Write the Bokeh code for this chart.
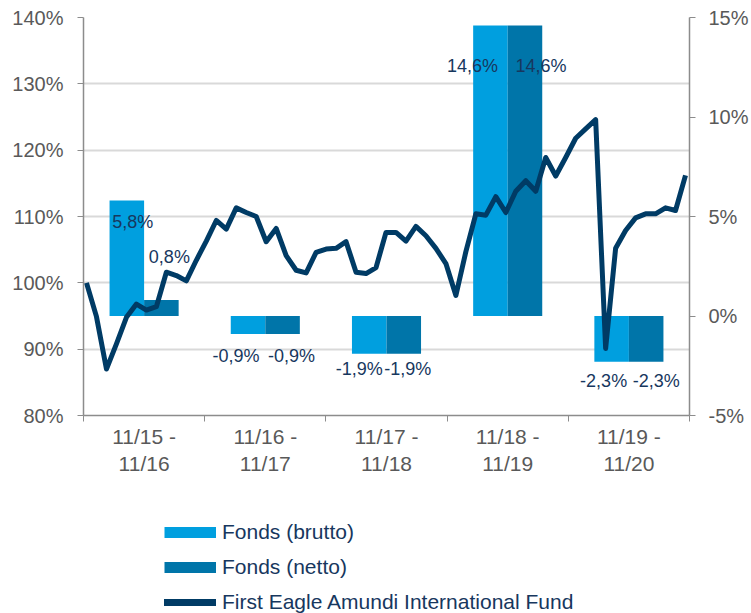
from bokeh.plotting import figure
from bokeh.layouts import column
from bokeh.models import (Range1d, LinearAxis, FixedTicker, ColumnDataSource,
                          Legend, LegendItem)
from bokeh.transform import dodge
from bokeh.core.properties import value
from bokeh.embed import file_html
from bokeh.resources import INLINE

# ---------------- data ----------------
periods = ["11/15 -\n11/16", "11/16 -\n11/17", "11/17 -\n11/18",
           "11/18 -\n11/19", "11/19 -\n11/20"]
brutto = [5.8, -0.9, -1.9, 14.6, -2.3]
netto = [0.8, -0.9, -1.9, 14.6, -2.3]

# monthly index of the fund (start = 100 %)
fund_index = [100.0, 94.9, 87.0, 90.8, 94.8, 96.8, 95.9, 96.4, 101.6, 101.1,
              100.3, 103.4, 106.3, 109.4, 108.1, 111.3, 110.6, 110.0, 106.2, 108.2,
              104.1, 101.9, 101.5, 104.6, 105.1, 105.2, 106.2, 101.6, 101.4, 102.3,
              107.6, 107.6, 106.3, 108.5, 107.1, 105.2, 102.9, 98.1, 104.7, 110.4,
              110.2, 113.0, 110.6, 113.8, 115.4, 113.8, 118.9, 116.1, 118.9, 121.8,
              123.2, 124.6, 90.1, 105.2, 107.9, 109.8, 110.4, 110.4, 111.3, 110.9,
              116.2]

left_ticks = [80, 90, 100, 110, 120, 130, 140]
right_ticks = [-5, 0, 5, 10, 15]
legend_labels = ["Fonds (brutto)", "Fonds (netto)",
                 "First Eagle Amundi International Fund"]

# ---------------- styles ----------------
C_BRUTTO = "#009FDF"
C_NETTO = "#0075A9"
C_LINE = "#003B65"
C_LABEL = "#17375E"
C_TICK = "#595959"
C_AXIS = "#8C8C8C"
C_GRID = "#D9D9D9"
FONT = "Liberation Sans"

BAR_W = 0.285
# data-label offsets (pixels) relative to the bar end
brutto_dx = [6, -12, -10, -18, -8]
brutto_dy = [21, 22, 15, 41, 19]
netto_dx = [8, 9, 4, 16, 10]
netto_dy = [-43, 22, 15, 41, 19]

def fmt(v):
    return f"{v:.1f}".replace(".", ",") + "%"

centers = [i + 0.5 for i in range(len(periods))]
months = list(range(len(fund_index)))

p = figure(width=751, height=480, output_backend="svg", toolbar_location=None,
           x_range=Range1d(0, len(periods)), y_range=Range1d(80, 140),
           min_border_left=83, min_border_right=62, min_border_top=17,
           min_border_bottom=65)
p.outline_line_color = None
p.background_fill_color = "white"
p.border_fill_color = "white"
p.extra_y_ranges = {"pct": Range1d(-5, 15)}
p.extra_x_ranges = {"months": Range1d(-0.30, len(fund_index) - 1 + 0.40)}

# grid
p.xgrid.visible = False
p.ygrid.ticker = FixedTicker(ticks=left_ticks)
p.ygrid.grid_line_color = C_GRID
p.ygrid.grid_line_width = 2

# left axis
ya = p.yaxis[0]
ya.ticker = FixedTicker(ticks=left_ticks)
ya.major_label_overrides = {t: f"{t}%" for t in left_ticks}
ya.minor_tick_line_color = None
ya.major_tick_in = 0
ya.major_tick_out = 6
ya.major_tick_line_color = C_AXIS
ya.axis_line_color = C_AXIS
ya.axis_line_width = 1.5
ya.major_label_text_font = FONT
ya.major_label_text_font_size = "20px"
ya.major_label_text_color = C_TICK
ya.major_label_standoff = 14

# right axis
ra = LinearAxis(y_range_name="pct", ticker=FixedTicker(ticks=right_ticks))
ra.major_label_overrides = {t: f"{t}%" for t in right_ticks}
ra.minor_tick_line_color = None
ra.major_tick_in = 0
ra.major_tick_out = 6
ra.major_tick_line_color = C_AXIS
ra.axis_line_color = C_AXIS
ra.axis_line_width = 1.5
ra.major_label_text_font = FONT
ra.major_label_text_font_size = "20px"
ra.major_label_text_color = C_TICK
ra.major_label_standoff = 13
p.add_layout(ra, "right")

# x axis
xa = p.xaxis[0]
xa.ticker = FixedTicker(ticks=centers, minor_ticks=list(range(len(periods) + 1)))
xa.major_label_overrides = {c: lab for c, lab in zip(centers, periods)}
xa.major_tick_line_color = None
xa.major_tick_in = 0
xa.major_tick_out = 6
xa.minor_tick_in = 0
xa.minor_tick_out = 6
xa.minor_tick_line_color = C_AXIS
xa.axis_line_color = C_AXIS
xa.axis_line_width = 1.5
xa.major_label_text_font = FONT
xa.major_label_text_font_size = "21px"
xa.major_label_text_color = C_TICK
xa.major_label_standoff = 3

# bars
src_b = ColumnDataSource(dict(x=centers, top=brutto, label=[fmt(v) for v in brutto],
                              dx=brutto_dx, dy=brutto_dy))
src_n = ColumnDataSource(dict(x=centers, top=netto, label=[fmt(v) for v in netto],
                              dx=netto_dx, dy=netto_dy))
p.vbar(x=dodge("x", -BAR_W / 2), top="top", bottom=0, width=BAR_W, source=src_b,
       y_range_name="pct", fill_color=C_BRUTTO, line_color=None)
p.vbar(x=dodge("x", BAR_W / 2), top="top", bottom=0, width=BAR_W, source=src_n,
       y_range_name="pct", fill_color=C_NETTO, line_color=None)

# fund line
p.line(x=months, y=fund_index, x_range_name="months", line_color=C_LINE,
       line_width=5, line_join="round")

# data labels
for src, off in ((src_b, -BAR_W / 2), (src_n, BAR_W / 2)):
    p.text(x=dodge("x", off), y="top", text="label", source=src, y_range_name="pct",
           x_offset="dx", y_offset="dy", text_align="center", text_baseline="middle",
           text_font=value(FONT), text_font_size="18px", text_color=C_LABEL)

# ---------------- legend (separate strip below the chart) ----------------
lf = figure(width=751, height=133, output_backend="svg", toolbar_location=None,
            x_axis_type=None, y_axis_type=None, x_range=Range1d(0, 1),
            y_range=Range1d(0, 1), min_border=0)
lf.outline_line_color = None
lf.xgrid.visible = False
lf.ygrid.visible = False


def key_source():
    # a single off-range point: draws nothing in the strip, but feeds the legend key
    return ColumnDataSource(dict(x=[-5.0], y=[-5.0]))


lb = lf.line(x="x", y="y", source=key_source(), line_color=C_BRUTTO,
             line_width=11, line_cap="butt")
ln = lf.line(x="x", y="y", source=key_source(), line_color=C_NETTO,
             line_width=11, line_cap="butt")
ll = lf.line(x="x", y="y", source=key_source(), line_color=C_LINE,
             line_width=7, line_cap="round")
legend = Legend(items=[LegendItem(label=legend_labels[0], renderers=[lb]),
                       LegendItem(label=legend_labels[1], renderers=[ln]),
                       LegendItem(label=legend_labels[2], renderers=[ll])],
                location=(81, -1), orientation="vertical",
                glyph_width=52, glyph_height=24, label_height=24, spacing=11,
                padding=0, margin=0, border_line_color=None,
                background_fill_alpha=0, label_standoff=6,
                label_text_font=FONT, label_text_font_size="21px",
                label_text_color=C_LABEL)
lf.add_layout(legend)

layout = column(p, lf, spacing=0)
open("out.html", "w").write(file_html(layout, INLINE))
